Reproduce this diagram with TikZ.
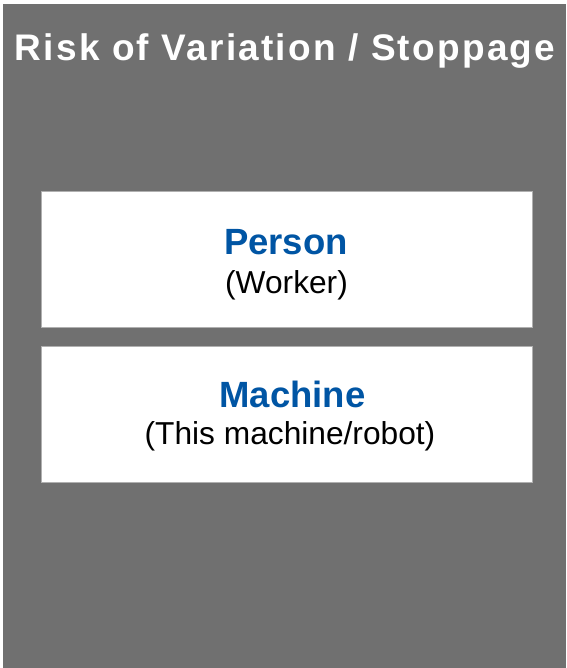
\documentclass[tikz,border=0pt]{standalone}
\usepackage{fontspec}
\setmainfont{Liberation Sans}
\newfontfamily\titlefont[LetterSpace=6]{Liberation Sans}
\definecolor{bggray}{HTML}{707070}
\definecolor{headblue}{HTML}{0055A4}
\definecolor{edgegray}{HTML}{B0B0B0}
\begin{document}
\begin{tikzpicture}[x=1pt,y=-1pt,
  panel/.style={fill=white,draw=edgegray,line width=0.8pt},
  titletext/.style={inner sep=0pt,anchor=base,text=white,font=\titlefont\fontsize{37}{41}\selectfont\bfseries},
  headtext/.style={inner sep=0pt,anchor=base,text=headblue,font=\fontsize{36.5}{40}\selectfont\bfseries},
  subtext/.style={inner sep=0pt,anchor=base,text=black,font=\fontsize{31.7}{36}\selectfont}]
  \useasboundingbox[fill=white] (0,0) rectangle (566,668);
  \fill[bggray] (3,4) rectangle (566,668);
  \node[titletext] (title) at (285,61) {Risk of Variation / Stoppage};
  \draw[panel] (41,191) rectangle (532,327);
  \node[headtext] (person) at (286,254) {Person};
  \node[subtext] (worker) at (286.5,293) {(Worker)};
  \draw[panel] (41,346) rectangle (532,482);
  \node[headtext] (machine) at (292.5,407.5) {Machine};
  \node[subtext] (robot) at (290,444) {(This machine/robot)};
\end{tikzpicture}
\end{document}
